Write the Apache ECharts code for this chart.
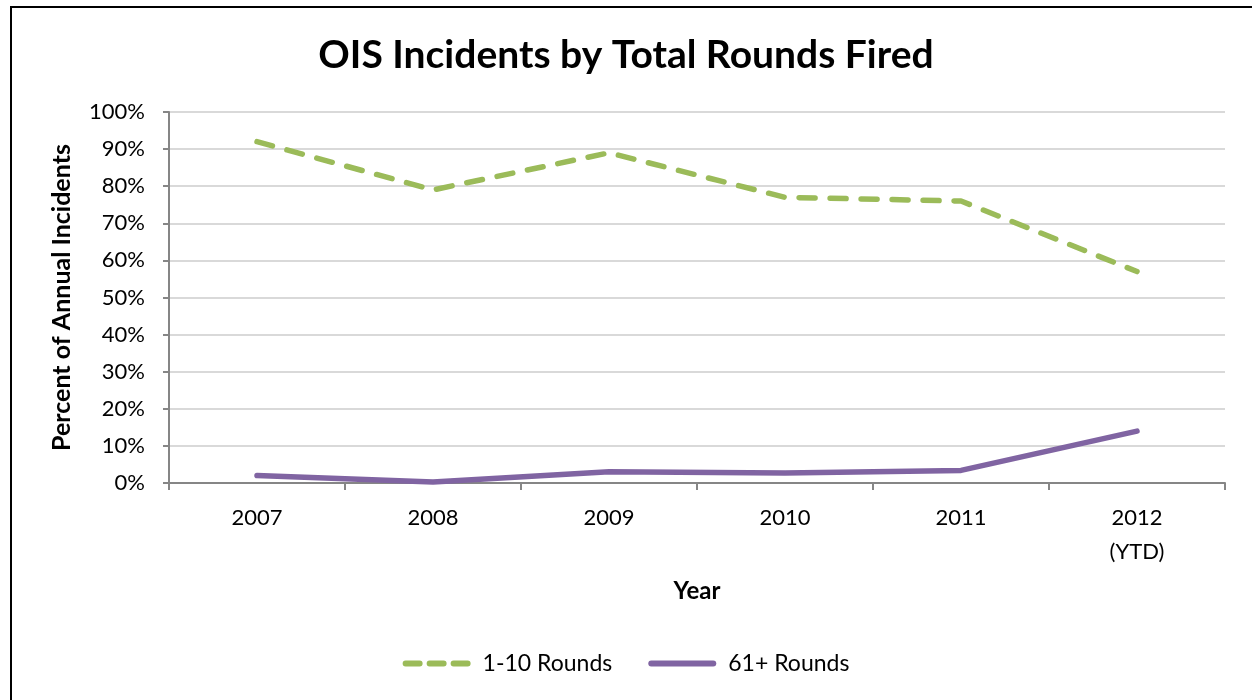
<!DOCTYPE html>
<html><head><meta charset="utf-8">
<script src="https://cdn.jsdelivr.net/npm/echarts@6/dist/echarts.min.js"></script>
<style>html,body{margin:0;padding:0;background:#fff}#c{width:1252px;height:700px}</style>
</head><body><div id="c"></div>
<script>
const categories = ['2007','2008','2009','2010','2011','2012\n(YTD)'];
const rounds1to10 = [92, 79, 89, 77, 76, 57];
const rounds61plus = [2, 0.3, 3, 2.7, 3.4, 14];
const seriesNames = ['1-10 Rounds', '61+ Rounds'];
const font = 'Lato, "Open Sans", sans-serif';
const dashIcon = 'path://M3,0H17A3,3 0 0 1 17,6H3A3,3 0 0 1 3,0Z M27,0H41A3,3 0 0 1 41,6H27A3,3 0 0 1 27,0Z M51,0H65A3,3 0 0 1 65,6H51A3,3 0 0 1 51,0Z';
const solidIcon = 'path://M3,0H65A3,3 0 0 1 65,6H3A3,3 0 0 1 3,0Z';
const chart = echarts.init(document.getElementById('c'));
chart.setOption({
  animation: false,
  backgroundColor: '#fff',
  graphic: [{type:'rect', shape:{x:11,y:7,width:1260,height:720}, style:{fill:'none', stroke:'#000', lineWidth:2}, silent:true}],
  title: {text:'OIS Incidents by Total Rounds Fired', left:'center', top:31,
    textStyle:{fontFamily:font, fontSize:39, fontWeight:'bold', color:'#000'}},
  legend: {top:647, left:'center', itemWidth:70, itemHeight:6, itemGap:36,
    textStyle:{fontFamily:font, fontSize:23, color:'#000', padding:[0,0,0,6]},
    data:[{name:seriesNames[0], icon:dashIcon}, {name:seriesNames[1], icon:solidIcon}]},
  grid: {left:169, right:27, top:112, bottom:217, containLabel:false},
  xAxis: {type:'category', data:categories, boundaryGap:true,
    name:'Year', nameLocation:'middle', nameGap:96,
    nameTextStyle:{fontFamily:font, fontSize:24, fontWeight:'bold', color:'#000'},
    axisLine:{lineStyle:{color:'#868686', width:2}},
    axisTick:{show:true, length:7, lineStyle:{color:'#868686', width:2}, alignWithLabel:false},
    axisLabel:{fontFamily:font, fontSize:22, color:'#000', margin:18, lineHeight:34}},
  yAxis: {type:'value', min:0, max:100, interval:10,
    name:'Percent of Annual Incidents', nameLocation:'middle', nameGap:95,
    nameTextStyle:{fontFamily:font, fontSize:25, fontWeight:'bold', color:'#000'},
    axisLine:{show:true, lineStyle:{color:'#868686', width:2}},
    axisTick:{show:true, length:6, lineStyle:{color:'#868686', width:2}},
    splitLine:{lineStyle:{color:'#d9d9d9', width:2}},
    axisLabel:{fontFamily:font, fontSize:22, color:'#000', margin:24, formatter:'{value}%'}},
  series: [
    {name:seriesNames[0], type:'line', data:rounds1to10, symbol:'none', color:'#9BBB59',
      lineStyle:{color:'#9BBB59', width:5.5, type:[16,15], cap:'round', join:'round'}},
    {name:seriesNames[1], type:'line', data:rounds61plus, symbol:'none', color:'#8064A2',
      lineStyle:{color:'#8064A2', width:5.5, cap:'round', join:'round'}}
  ]
});
</script></body></html>
